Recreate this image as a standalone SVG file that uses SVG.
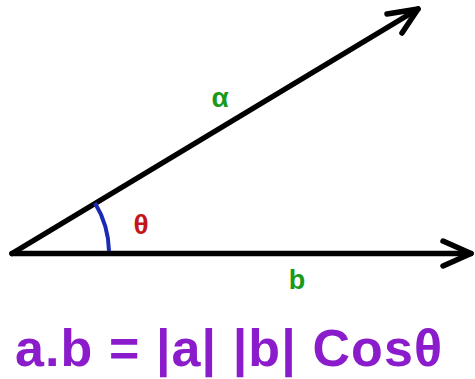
<svg xmlns="http://www.w3.org/2000/svg" width="475" height="379" viewBox="0 0 475 379">
<style>
.vec{stroke:#000;stroke-width:5.5;fill:none;stroke-linecap:round;stroke-linejoin:round}
.lbl{font-family:"Liberation Sans",Arial,sans-serif;font-weight:bold}
</style>
<rect width="475" height="379" fill="#fff"/>
<g id="connectors">
<g id="vector-a">
<line class="vec" x1="12" y1="253.5" x2="418" y2="9"/>
<polyline class="vec" points="387,14 418,9 402,33"/>
</g>
<g id="vector-b">
<line class="vec" x1="12" y1="253.5" x2="471" y2="253.5"/>
<polyline class="vec" points="443,241 471,253.5 443,266"/>
</g>
</g>
<g id="angle">
<path d="M95,203 A97,97 0 0 1 109,251" fill="none" stroke="#1a2ab4" stroke-width="4"/>
<text class="lbl" x="141" y="234" font-size="28" fill="#c4141c" text-anchor="middle">θ</text>
</g>
<g id="label-alpha"><text class="lbl" x="220" y="107" font-size="28" fill="#1a9a1a" text-anchor="middle">α</text></g>
<g id="label-b"><text class="lbl" x="297" y="289" font-size="27" fill="#1a9a1a" text-anchor="middle">b</text></g>
<g id="formula"><text class="lbl" x="15" y="366" font-size="52" fill="#8a1ccc" textLength="427" lengthAdjust="spacing">a.b = |a| |b| Cosθ</text></g>
</svg>
